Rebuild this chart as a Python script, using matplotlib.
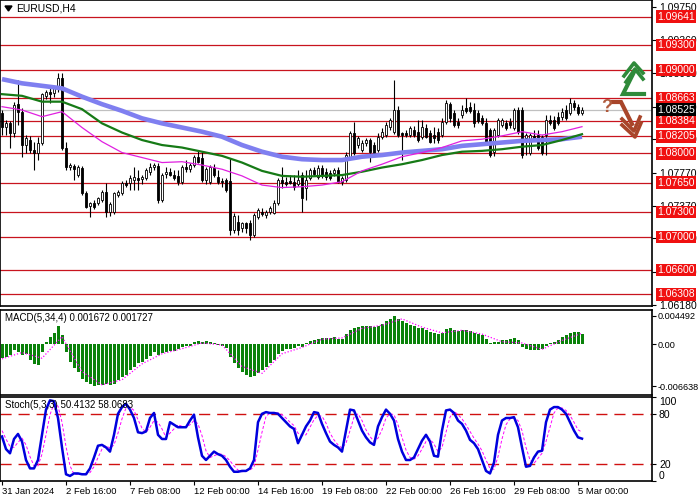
import matplotlib
matplotlib.use("Agg")
import matplotlib.pyplot as plt
import matplotlib.transforms as mtransforms

plt.rcParams['font.family'] = ['Liberation Sans', 'DejaVu Sans']

# ---- data (EURUSD H4) ----
date_ticks = [0, 16, 32, 48, 64, 80, 96, 112, 128, 144]
date_labels = ["31 Jan 2024", "2 Feb 16:00", "7 Feb 08:00", "12 Feb 00:00", "14 Feb 16:00",
               "19 Feb 08:00", "22 Feb 00:00", "26 Feb 16:00", "29 Feb 08:00", "5 Mar 00:00"]

opens = [1.0848, 1.0832, 1.0836, 1.0825, 1.0859, 1.0850, 1.0810, 1.0816, 1.0804, 1.0801,
         1.0813, 1.0869, 1.0874, 1.0872, 1.0877, 1.0890, 1.0807, 1.0784, 1.0785, 1.0774,
         1.0783, 1.0753, 1.0737, 1.0741, 1.0741, 1.0744, 1.0754, 1.0730, 1.0730, 1.0750,
         1.0753, 1.0765, 1.0765, 1.0768, 1.0771, 1.0769, 1.0771, 1.0778, 1.0784, 1.0785,
         1.0744, 1.0775, 1.0778, 1.0774, 1.0773, 1.0766, 1.0784, 1.0781, 1.0786, 1.0796,
         1.0795, 1.0768, 1.0766, 1.0783, 1.0772, 1.0767, 1.0768, 1.0767, 1.0708, 1.0718,
         1.0710, 1.0716, 1.0717, 1.0702, 1.0724, 1.0730, 1.0726, 1.0730, 1.0729, 1.0741,
         1.0768, 1.0766, 1.0767, 1.0766, 1.0763, 1.0774, 1.0759, 1.0771, 1.0780, 1.0772,
         1.0783, 1.0778, 1.0777, 1.0777, 1.0780, 1.0766, 1.0768, 1.0796, 1.0825, 1.0810,
         1.0804, 1.0813, 1.0816, 1.0810, 1.0804, 1.0820, 1.0822, 1.0832, 1.0826, 1.0852,
         1.0825, 1.0825, 1.0822, 1.0828, 1.0826, 1.0820, 1.0831, 1.0825, 1.0822, 1.0826,
         1.0822, 1.0838, 1.0859, 1.0848, 1.0838, 1.0846, 1.0854, 1.0856, 1.0852, 1.0848,
         1.0842, 1.0836, 1.0828, 1.0802, 1.0822, 1.0834, 1.0836, 1.0838, 1.0831, 1.0852,
         1.0852, 1.0819, 1.0801, 1.0821, 1.0822, 1.0820, 1.0822, 1.0840, 1.0840, 1.0844,
         1.0844, 1.0852, 1.0848, 1.0860, 1.0856, 1.0849]
highs = [1.0852, 1.0840, 1.0839, 1.0862, 1.0888, 1.0854, 1.0822, 1.0821, 1.0814, 1.0820,
         1.0872, 1.0876, 1.0878, 1.0881, 1.0896, 1.0896, 1.0814, 1.0789, 1.0787, 1.0786,
         1.0785, 1.0755, 1.0742, 1.0744, 1.0748, 1.0756, 1.0765, 1.0742, 1.0754, 1.0756,
         1.0767, 1.0768, 1.0774, 1.0784, 1.0780, 1.0774, 1.0783, 1.0789, 1.0789, 1.0789,
         1.0777, 1.0784, 1.0783, 1.0780, 1.0780, 1.0786, 1.0792, 1.0789, 1.0798, 1.0804,
         1.0802, 1.0784, 1.0786, 1.0787, 1.0780, 1.0771, 1.0771, 1.0795, 1.0729, 1.0726,
         1.0718, 1.0718, 1.0720, 1.0729, 1.0735, 1.0735, 1.0732, 1.0737, 1.0744, 1.0771,
         1.0784, 1.0772, 1.0774, 1.0774, 1.0780, 1.0778, 1.0780, 1.0783, 1.0784, 1.0786,
         1.0786, 1.0783, 1.0780, 1.0783, 1.0784, 1.0773, 1.0802, 1.0827, 1.0838, 1.0821,
         1.0816, 1.0819, 1.0819, 1.0814, 1.0825, 1.0831, 1.0838, 1.0842, 1.0888, 1.0857,
         1.0826, 1.0828, 1.0833, 1.0833, 1.0840, 1.0840, 1.0835, 1.0828, 1.0832, 1.0831,
         1.0842, 1.0864, 1.0862, 1.0852, 1.0842, 1.0858, 1.0866, 1.0862, 1.0860, 1.0852,
         1.0846, 1.0842, 1.0831, 1.0831, 1.0842, 1.0842, 1.0840, 1.0842, 1.0854, 1.0856,
         1.0856, 1.0825, 1.0825, 1.0828, 1.0828, 1.0822, 1.0846, 1.0846, 1.0845, 1.0850,
         1.0854, 1.0858, 1.0866, 1.0864, 1.0859, 1.0856]
lows = [1.0822, 1.0822, 1.0807, 1.0820, 1.0834, 1.0796, 1.0801, 1.0801, 1.0780, 1.0792,
        1.0810, 1.0865, 1.0860, 1.0868, 1.0874, 1.0804, 1.0780, 1.0780, 1.0768, 1.0772,
        1.0750, 1.0735, 1.0724, 1.0733, 1.0738, 1.0742, 1.0724, 1.0725, 1.0727, 1.0748,
        1.0750, 1.0760, 1.0756, 1.0756, 1.0756, 1.0763, 1.0768, 1.0774, 1.0780, 1.0741,
        1.0742, 1.0771, 1.0773, 1.0768, 1.0762, 1.0763, 1.0778, 1.0778, 1.0784, 1.0789,
        1.0766, 1.0763, 1.0763, 1.0772, 1.0763, 1.0760, 1.0754, 1.0702, 1.0705, 1.0702,
        1.0706, 1.0705, 1.0696, 1.0700, 1.0721, 1.0725, 1.0723, 1.0727, 1.0727, 1.0738,
        1.0759, 1.0761, 1.0763, 1.0756, 1.0761, 1.0730, 1.0744, 1.0768, 1.0773, 1.0769,
        1.0771, 1.0768, 1.0768, 1.0773, 1.0765, 1.0762, 1.0766, 1.0795, 1.0798, 1.0807,
        1.0802, 1.0809, 1.0790, 1.0798, 1.0802, 1.0817, 1.0820, 1.0828, 1.0823, 1.0820,
        1.0792, 1.0820, 1.0820, 1.0820, 1.0814, 1.0817, 1.0819, 1.0813, 1.0813, 1.0813,
        1.0820, 1.0835, 1.0838, 1.0832, 1.0831, 1.0842, 1.0848, 1.0848, 1.0832, 1.0836,
        1.0834, 1.0813, 1.0796, 1.0797, 1.0820, 1.0832, 1.0828, 1.0831, 1.0828, 1.0823,
        1.0795, 1.0798, 1.0798, 1.0816, 1.0804, 1.0798, 1.0798, 1.0834, 1.0828, 1.0834,
        1.0840, 1.0840, 1.0846, 1.0852, 1.0846, 1.0846]
closes = [1.0832, 1.0836, 1.0825, 1.0858, 1.0850, 1.0810, 1.0819, 1.0804, 1.0801, 1.0813,
          1.0871, 1.0874, 1.0871, 1.0878, 1.0890, 1.0807, 1.0784, 1.0786, 1.0781, 1.0784,
          1.0753, 1.0736, 1.0741, 1.0736, 1.0747, 1.0754, 1.0730, 1.0739, 1.0753, 1.0754,
          1.0765, 1.0762, 1.0771, 1.0772, 1.0768, 1.0772, 1.0780, 1.0784, 1.0786, 1.0744,
          1.0774, 1.0778, 1.0774, 1.0771, 1.0766, 1.0784, 1.0781, 1.0786, 1.0796, 1.0790,
          1.0768, 1.0781, 1.0784, 1.0774, 1.0766, 1.0766, 1.0756, 1.0708, 1.0725, 1.0708,
          1.0716, 1.0711, 1.0702, 1.0726, 1.0732, 1.0727, 1.0730, 1.0735, 1.0741, 1.0768,
          1.0765, 1.0763, 1.0765, 1.0760, 1.0768, 1.0747, 1.0768, 1.0780, 1.0775, 1.0783,
          1.0774, 1.0772, 1.0771, 1.0780, 1.0766, 1.0771, 1.0798, 1.0825, 1.0801, 1.0819,
          1.0813, 1.0816, 1.0802, 1.0801, 1.0820, 1.0826, 1.0834, 1.0840, 1.0852, 1.0822,
          1.0822, 1.0822, 1.0831, 1.0822, 1.0816, 1.0832, 1.0820, 1.0814, 1.0819, 1.0816,
          1.0838, 1.0860, 1.0842, 1.0834, 1.0834, 1.0852, 1.0851, 1.0851, 1.0836, 1.0839,
          1.0836, 1.0814, 1.0798, 1.0828, 1.0840, 1.0840, 1.0831, 1.0834, 1.0852, 1.0826,
          1.0798, 1.0822, 1.0822, 1.0819, 1.0807, 1.0801, 1.0840, 1.0836, 1.0831, 1.0836,
          1.0850, 1.0842, 1.0860, 1.0856, 1.0848, 1.0852]

# moving averages read every 5 bars
ma_bars = [0, 5, 10, 15, 20, 25, 30, 35, 40, 45, 50, 55, 60, 65, 70,
           75, 80, 85, 90, 95, 100, 105, 110, 115, 120, 125, 130, 135, 140, 145]
ma_slow = [1.0889, 1.0884, 1.0881, 1.0878, 1.0868, 1.0859, 1.0851, 1.0842, 1.0836, 1.0831,
           1.0826, 1.0820, 1.0810, 1.0802, 1.0796, 1.0793, 1.0792, 1.0792, 1.0796, 1.0798,
           1.0801, 1.0803, 1.0805, 1.0809, 1.0811, 1.0813, 1.0815, 1.0816, 1.0817, 1.0820]
ma_mid = [1.0871, 1.0869, 1.0862, 1.0862, 1.0853, 1.0836, 1.0825, 1.0816, 1.0810, 1.0807,
          1.0802, 1.0797, 1.0789, 1.0779, 1.0773, 1.0772, 1.0773, 1.0774, 1.0778, 1.0783,
          1.0787, 1.0792, 1.0798, 1.0802, 1.0803, 1.0805, 1.0808, 1.0810, 1.0816, 1.0823]
ma_fast = [1.0856, 1.0852, 1.0844, 1.0850, 1.0831, 1.0814, 1.0801, 1.0795, 1.0789, 1.0790,
           1.0786, 1.0781, 1.0773, 1.0762, 1.0759, 1.0760, 1.0762, 1.0766, 1.0779, 1.0787,
           1.0796, 1.0801, 1.0807, 1.0815, 1.0817, 1.0821, 1.0826, 1.0822, 1.0826, 1.0832]

levels = [1.09641, 1.09300, 1.09000, 1.08663, 1.08384, 1.08205, 1.08000,
          1.07650, 1.07300, 1.07000, 1.06600, 1.06308]
last_price = 1.08525
price_ticks = [1.06180, 1.06580, 1.06980, 1.07370, 1.07770, 1.08170, 1.08560, 1.08960, 1.09360, 1.09750]

macd_hist = [-0.0021, -0.0020, -0.0017, -0.0009, -0.0012, -0.0017, -0.0016, -0.0025, -0.0031, -0.0033,
             -0.0012, 0.0004, 0.0012, 0.0017, 0.0028, 0.0014, -0.0012, -0.0028, -0.0037, -0.0043,
             -0.0054, -0.0059, -0.0063, -0.0066, -0.0065, -0.0064, -0.0063, -0.0064, -0.0062, -0.0056,
             -0.0051, -0.0049, -0.0041, -0.0036, -0.0030, -0.0028, -0.0024, -0.0019, -0.0012, -0.0017,
             -0.0014, -0.0012, -0.0010, -0.0010, -0.0008, -0.0004, -0.0003, -0.0002, 0.0003, 0.0005,
             0.0004, 0.0005, 0.0004, 0.0002, -0.0001, -0.0003, -0.0006, -0.0020, -0.0030, -0.0037,
             -0.0043, -0.0048, -0.0052, -0.0050, -0.0046, -0.0041, -0.0036, -0.0030, -0.0025, -0.0015,
             -0.0010, -0.0008, -0.0007, -0.0006, -0.0003, -0.0004, 0.0002, 0.0005, 0.0007, 0.0009,
             0.0010, 0.0010, 0.0010, 0.0011, 0.0009, 0.0009, 0.0016, 0.0023, 0.0025, 0.0027,
             0.0028, 0.0029, 0.0028, 0.0027, 0.0029, 0.0032, 0.0036, 0.0040, 0.0045, 0.0040,
             0.0036, 0.0033, 0.0031, 0.0028, 0.0025, 0.0025, 0.0023, 0.0020, 0.0018, 0.0016,
             0.0018, 0.0024, 0.0025, 0.0023, 0.0021, 0.0022, 0.0022, 0.0021, 0.0018, 0.0016,
             0.0014, 0.0009, 0.0002, 0.0003, 0.0004, 0.0006, 0.0006, 0.0008, 0.0010, 0.0007,
             -0.0005, -0.0008, -0.0009, -0.0009, -0.0009, -0.0007, -0.0003, 0.0002, 0.0004, 0.0007,
             0.0011, 0.0014, 0.0017, 0.0019, 0.0020, 0.00167]
macd_signal = [-0.0023, -0.0013, -0.0022, 0.0012, -0.0043, -0.0064, -0.0056, -0.0031, -0.0015, -0.0007,
               0.0002, -0.0001, -0.0035, -0.0046, -0.0015, -0.0005, 0.0008, 0.0010, 0.0025, 0.0030,
               0.0040, 0.0027, 0.0018, 0.0022, 0.0016, 0.0004, 0.0002, -0.0008, 0.0006, 0.001727]

stoch_main = [53, 38, 33, 50, 56, 47, 25, 15, 15, 25,
              55, 85, 96, 95, 75, 40, 8, 6, 9, 9,
              8, 8, 15, 28, 42, 43, 40, 35, 55, 80,
              88, 92, 85, 75, 58, 57, 59, 75, 81, 55,
              50, 50, 70, 67, 64, 64, 64, 72, 79, 52,
              30, 25, 30, 35, 32, 30, 25, 17, 11, 11,
              12, 12, 15, 25, 70, 80, 82, 81, 81, 80,
              75, 70, 65, 62, 45, 55, 65, 72, 82, 81,
              68, 57, 47, 43, 40, 35, 60, 85, 84, 72,
              60, 52, 46, 43, 65, 76, 85, 80, 72, 50,
              35, 25, 25, 28, 38, 48, 55, 47, 30, 29,
              60, 84, 85, 81, 72, 68, 60, 49, 45, 38,
              25, 12, 9, 22, 55, 72, 75, 75, 76, 64,
              40, 17, 18, 28, 35, 36, 70, 85, 88, 88,
              85, 80, 70, 60, 52, 50.4132]
stoch_signal = [60, 50, 41, 40, 46, 51, 43, 29, 18, 18,
                32, 55, 79, 92, 89, 70, 41, 18, 8, 8,
                9, 8, 10, 17, 28, 38, 42, 39, 43, 57,
                74, 87, 88, 84, 73, 63, 58, 64, 72, 70,
                62, 52, 57, 62, 67, 65, 64, 67, 72, 68,
                54, 36, 28, 30, 32, 32, 29, 24, 18, 13,
                11, 12, 13, 17, 37, 58, 77, 81, 81, 81,
                79, 75, 70, 66, 57, 54, 55, 64, 73, 78,
                77, 69, 57, 49, 43, 39, 45, 60, 76, 80,
                72, 61, 53, 47, 51, 61, 75, 80, 79, 67,
                52, 37, 28, 26, 30, 38, 47, 50, 44, 35,
                40, 58, 76, 83, 79, 74, 67, 59, 51, 44,
                36, 25, 15, 14, 29, 50, 67, 74, 75, 72,
                60, 40, 25, 21, 27, 33, 47, 64, 81, 87,
                87, 84, 78, 70, 61, 58.0683]

# ---- figure ----
W, H = 700, 500
fig = plt.figure(figsize=(7, 5), dpi=100)
axw = 652 / W
ax = fig.add_axes([0, 1 - 306 / H, axw, 306 / H])
ax2 = fig.add_axes([0, 1 - 395 / H, axw, 85 / H])
ax3 = fig.add_axes([0, 1 - 481 / H, axw, 84 / H])

bars = list(range(len(closes)))
for a in (ax, ax2, ax3):
    a.set_xlim(-0.5, 162.5)
    a.yaxis.tick_right()
    a.tick_params(axis='y', direction='out', length=3, width=0.8, pad=2, labelsize=7.5, colors='black')
    a.tick_params(axis='x', length=0)
    a.set_xticks([])
    for s in a.spines.values():
        s.set_linewidth(1.2)
        s.set_color('black')

# main price panel
ax.set_ylim(1.06170, 1.09839)
for lv in levels:
    ax.axhline(lv, color='#c8141e', lw=0.9, zorder=1)
ax.axhline(last_price, color='#c0c0c0', lw=0.9, zorder=1)

body_lo = [min(o, c) for o, c in zip(opens, closes)]
body_h = [max(abs(c - o), 0.00003) for o, c in zip(opens, closes)]
body_col = ['white' if c >= o else 'black' for o, c in zip(opens, closes)]
ax.vlines(bars, lows, highs, color='black', lw=0.8, zorder=2)
ax.bar(bars, body_h, bottom=body_lo, width=0.72, color=body_col,
       edgecolor='black', linewidth=0.6, zorder=3)

ax.plot(ma_bars, ma_slow, color='#7f7ff0', lw=3.3, solid_capstyle='butt', zorder=4)
ax.plot(ma_bars, ma_mid, color='#167a16', lw=1.6, zorder=5)
ax.plot(ma_bars, ma_fast, color='#e020e0', lw=0.9, zorder=6)

ax.set_yticks(price_ticks)
ax.set_yticklabels([f"{t:.5f}" for t in price_ticks])

trans = mtransforms.blended_transform_factory(ax.transAxes, ax.transData)
for lv in levels:
    ax.text(1.0075, lv, f"{lv:.5f}", transform=trans, ha='left', va='center',
            fontsize=7.5, color='white', clip_on=False, zorder=10,
            bbox=dict(boxstyle='square,pad=0.12', fc='#f01010', ec='none'))
ax.text(1.0075, last_price, f"{last_price:.5f}", transform=trans, ha='left', va='center',
        fontsize=7.5, color='white', clip_on=False, zorder=10,
        bbox=dict(boxstyle='square,pad=0.12', fc='black', ec='none'))

# MACD panel
ax2.set_ylim(-0.0080, 0.0054)
ax2.bar(bars, macd_hist, width=0.75, color='#0a820a', zorder=2)
ax2.plot(ma_bars, macd_signal, color='#ff00ff', lw=0.9, ls=(0, (1, 1.5)), zorder=3)
ax2.set_yticks([-0.006638, 0.0, 0.004492])
ax2.set_yticklabels(['-0.006638', '0.00', '0.004492'])
ax2.tick_params(axis='y', labelsize=6.6, pad=1)
ax2.text(0.007, 0.91, "MACD(5,34,4) 0.001672 0.001727", transform=ax2.transAxes,
         fontsize=7, va='center', ha='left')

# Stochastic panel
ax3.set_ylim(0, 100)
ax3.axhline(80, color='#d01010', lw=1, ls=(0, (8, 5)), zorder=1)
ax3.axhline(20, color='#d01010', lw=1, ls=(0, (8, 5)), zorder=1)
ax3.plot(bars, stoch_signal, color='#ff00ff', lw=0.7, ls=(0, (3, 2)), zorder=2)
ax3.plot(bars, stoch_main, color='#0000dd', lw=1.8, zorder=3)
ax3.set_yticks([0, 20, 80, 100])
ax3.set_yticklabels(['0', '20', '80', '100'])
ylabs = ax3.get_yticklabels()
ylabs[0].set_va('bottom')
ylabs[3].set_va('top')
ax3.text(0.007, 0.91, "Stoch(5,3,3) 50.4132 58.0683", transform=ax3.transAxes,
         fontsize=7, va='center', ha='left')
ax3.set_xticks(date_ticks)
ax3.set_xticklabels(date_labels, ha='left', fontsize=6.8)
ax3.tick_params(axis='x', direction='out', length=3, width=0.8, pad=1)

# overlay in pixel space: title and signal arrows
ov = fig.add_axes([0, 0, 1, 1], zorder=20)
ov.set_xlim(0, W)
ov.set_ylim(H, 0)
ov.axis('off')
ov.patch.set_alpha(0)
ov.fill([5, 12, 8.5], [6, 6, 11], color='black')
ov.text(16, 8.5, "EURUSD,H4", fontsize=7.5, va='center', ha='left')

green = '#2f8a3a'
ov.plot([644, 623, 634], [94, 94, 72], color=green, lw=3, solid_joinstyle='miter')
ov.plot([624, 634, 643], [76, 63, 73], color=green, lw=2.6)
ov.plot([626, 635, 643], [82, 69, 79], color=green, lw=2.6)

brown = '#a8452a'
ov.plot([613, 621, 632], [102, 102, 124], color=brown, lw=3, solid_joinstyle='miter')
ov.plot([622, 634, 640], [119, 131, 117], color=brown, lw=2.6)
ov.plot([622, 635, 641], [125, 137, 123], color=brown, lw=2.6)
ov.text(607, 108, "?", fontsize=13, fontweight='bold', color='#b05a3c', ha='center', va='center')

fig.savefig("out.png", dpi=100, facecolor='white')
